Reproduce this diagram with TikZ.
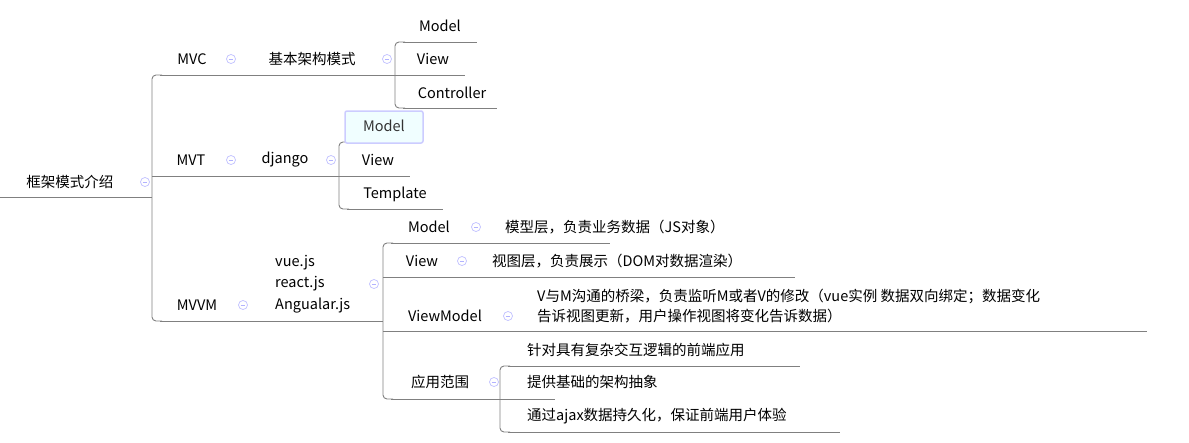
\documentclass[tikz,border=0pt]{standalone}
\usepackage{fontspec}
\setmainfont{Noto Sans CJK SC}
\begin{document}
\begin{tikzpicture}[x=1pt,y=-1pt,
  lbl/.style={font=\fontsize{14.5}{19}\selectfont, text=black, inner sep=0pt},
  ln/.style={draw=black!50, line width=0.9pt},
  br/.style={ln, rounded corners=4pt},
  icon/.style={circle, draw=blue!25, line width=0.7pt, minimum size=9pt, inner sep=0pt,
    path picture={\draw[blue!30,line width=0.7pt] ([xshift=-2.3pt]path picture bounding box.center) -- ([xshift=2.3pt]path picture bounding box.center);}}]
\useasboundingbox (0,0) rectangle (1189,442);
% root
\node[lbl] (root) at (70,182) {框架模式介绍};
\node[icon] (iroot) at (145,182) {};
\draw[ln] (0,197) -- (152,197);
\draw[br] (162,75) -- (152,75) -- (152,321) -- (162,321);
\draw[ln] (152,176) -- (162,176);
% MVC
\node[lbl] (mvc) at (192,59) {MVC};
\node[icon] at (231,59) {};
\node[lbl] (jb) at (312,59) {基本架构模式};
\node[icon] at (387,59) {};
\draw[ln] (160,75) -- (395,75);
\draw[br] (405,42) -- (395,42) -- (395,108) -- (405,108);
\node[lbl] at (440,26) {Model};
\draw[ln] (403,42) -- (477,42);
\node[lbl] at (433,59) {View};
\draw[ln] (395,75) -- (465,75);
\node[lbl] at (452,93) {Controller};
\draw[ln] (403,108) -- (497,108);
% MVT
\node[lbl] (mvt) at (191,160) {MVT};
\node[icon] at (231,160) {};
\node[lbl] (dj) at (285,160) {django};
\node[icon] at (331,160) {};
\draw[ln] (160,176) -- (410,176);
\draw[br] (349,142) -- (339,142) -- (339,209) -- (349,209);
\node[draw=blue!20, line width=1.5pt, fill=blue!8!cyan!6, rounded corners=2pt, minimum width=78pt, minimum height=32pt] at (384,127) {};
\node[lbl, text=black!80] at (384,126) {Model};
\node[lbl] at (378,160) {View};
\node[lbl] at (395,194) {Template};
\draw[ln] (347,209) -- (443,209);
% MVVM
\node[lbl] (mvvm) at (197,305) {MVVM};
\node[icon] at (243,305) {};
\node[lbl, anchor=west, align=left, font=\fontsize{14.5}{21.5}\selectfont] (fw) at (275,284) {vue.js\\react.js\\Angualar.js};
\node[icon] at (374,284) {};
\draw[ln] (160,321) -- (383,321);
\draw[br] (393,243) -- (383,243) -- (383,399) -- (393,399);
\draw[ln] (383,277) -- (393,277);
\draw[ln] (383,331) -- (393,331);
\node[lbl] at (429,227) {Model};
\node[icon] at (476,227) {};
\node[lbl, anchor=west] at (505,227) {模型层，负责业务数据（JS对象）};
\draw[ln] (391,243) -- (610,243);
\node[lbl] at (422,261) {View};
\node[icon] at (462,261) {};
\node[lbl, anchor=west] at (492,261) {视图层，负责展示（DOM对数据渲染）};
\draw[ln] (383,277) -- (795,277);
\node[lbl] at (445,316) {ViewModel};
\node[icon] at (508,316) {};
\node[lbl, anchor=west, align=left, font=\fontsize{14.5}{20}\selectfont] at (537,306) {V与M沟通的桥梁，负责监听M或者V的修改（vue实例 数据双向绑定；数据变化\\告诉视图更新，用户操作视图将变化告诉数据）};
\draw[ln] (383,331) -- (1147,331);
\node[lbl] at (440,382) {应用范围};
\node[icon] at (494,382) {};
\draw[ln] (391,399) -- (555,399);
\draw[br] (510,366) -- (500,366) -- (500,432) -- (510,432);
\node[lbl, anchor=west] at (527,350) {针对具有复杂交互逻辑的前端应用};
\draw[ln] (508,366) -- (800,366);
\node[lbl, anchor=west] at (527,382) {提供基础的架构抽象};
\node[lbl, anchor=west] at (527,416) {通过ajax数据持久化，保证前端用户体验};
\draw[ln] (508,432) -- (840,432);
\end{tikzpicture}
\end{document}
